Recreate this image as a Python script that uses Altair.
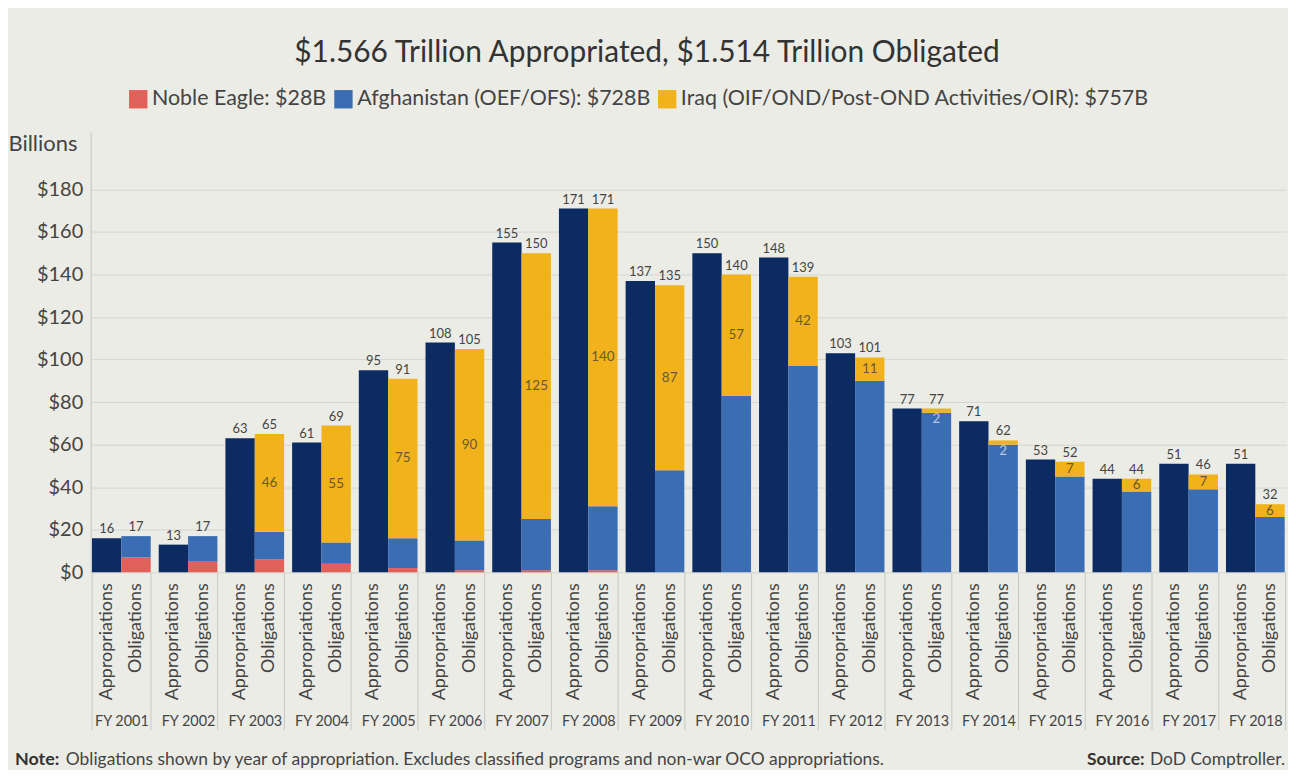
import altair as alt
import pandas as pd

years = [f"FY {y}" for y in range(2001, 2019)]
appropriations = [16, 13, 63, 61, 95, 108, 155, 171, 137, 150, 148, 103, 77, 71, 53, 44, 51, 51]
noble_eagle = [7, 5, 6, 4, 2, 1, 1, 1, 0, 0, 0, 0, 0, 0, 0, 0, 0, 0]
afghanistan = [10, 12, 13, 10, 14, 14, 24, 30, 48, 83, 97, 90, 75, 60, 45, 38, 39, 26]
iraq = [0, 0, 46, 55, 75, 90, 125, 140, 87, 57, 42, 11, 2, 2, 7, 6, 7, 6]

types = ["Appropriations", "Obligations"]
series_names = [
    "Noble Eagle: $28B",
    "Afghanistan (OEF/OFS): $728B",
    "Iraq (OIF/OND/Post-OND Activities/OIR): $757B",
    "Appropriations",
]
colors = ["#e2605a", "#3b6db4", "#f1b21c", "#0b2b62"]

seg_rows, tot_rows, iraq_rows, lab_rows = [], [], [], []
for i, yr in enumerate(years):
    seg_rows.append(dict(year=yr, type="Appropriations", series=series_names[3], lo=0, hi=appropriations[i]))
    base = 0
    for name, vals in zip(series_names[:3], [noble_eagle, afghanistan, iraq]):
        v = vals[i]
        if v > 0:
            seg_rows.append(dict(year=yr, type="Obligations", series=name, lo=base, hi=base + v))
        base += v
    tot_rows.append(dict(year=yr, type="Appropriations", total=appropriations[i]))
    tot_rows.append(dict(year=yr, type="Obligations", total=base))
    if iraq[i] > 0:
        iraq_rows.append(dict(year=yr, type="Obligations", value=iraq[i], lo=base - iraq[i], hi=base))
    for t in types:
        lab_rows.append(dict(year=yr, type=t))

seg = pd.DataFrame(seg_rows)
tot = pd.DataFrame(tot_rows)
iq = pd.DataFrame(iraq_rows)
labs = pd.DataFrame(lab_rows)

W, H = 1200, 442
FONT = "Lato"

x_enc = alt.X(
    "year:N", sort=years, title=None,
    scale=alt.Scale(paddingInner=0.12, paddingOuter=0.02),
    axis=alt.Axis(
        tickBand="extent", ticks=True, tickSize=158, tickColor="#c9c9c4", tickWidth=1,
        domain=False, labelAngle=0, labelFontSize=14.5, labelColor="#444",
        labelPadding=-8, labelBaseline="middle", grid=False,
    ),
)
xo_enc = alt.XOffset("type:N", sort=types, scale=alt.Scale(paddingInner=0, paddingOuter=0))

y_axis = alt.Axis(
    values=list(range(0, 181, 20)), labelExpr="'$' + datum.value",
    title="Billions", titleAngle=0, titleAlign="left", titleBaseline="middle",
    titleX=-83, titleY=12, titleFontSize=22, titleFontWeight="normal", titleColor="#444",
    labelFontSize=20, labelColor="#444", labelPadding=8, ticks=False,
    domain=True, domainColor="#c4c4bf", grid=True, gridColor="#d6d6d0",
)
y_scale = alt.Scale(domain=[0, 207], nice=False)

bars = alt.Chart(seg).mark_bar().encode(
    x=x_enc, xOffset=xo_enc,
    y=alt.Y("lo:Q", scale=y_scale, axis=y_axis),
    y2="hi:Q",
    color=alt.Color(
        "series:N",
        scale=alt.Scale(domain=series_names, range=colors),
        legend=alt.Legend(
            orient="none", legendX=37, legendY=-44, direction="horizontal",
            values=series_names[:3], title=None, symbolType="square", symbolSize=340,
            symbolStrokeWidth=0, labelFontSize=21.5, labelColor="#444", columnPadding=6,
            labelOffset=3, labelLimit=0,
        ),
    ),
)

totals = alt.Chart(tot).mark_text(baseline="bottom", dy=-2, fontSize=13, color="#444").encode(
    x=x_enc, xOffset=xo_enc,
    y=alt.Y("total:Q", scale=y_scale, axis=y_axis),
    text="total:Q",
)

big_iraq = alt.Chart(iq).transform_filter("datum.value > 2").transform_calculate(
    mid="(datum.lo + datum.hi) / 2"
).mark_text(baseline="middle", fontSize=13.5, color="#6a5a2f").encode(
    x=x_enc, xOffset=xo_enc,
    y=alt.Y("mid:Q", scale=y_scale, axis=y_axis),
    text="value:Q",
)

small_iraq = alt.Chart(iq).transform_filter("datum.value <= 2").mark_text(
    baseline="top", dy=4, fontSize=13.5, color="#b9c6da"
).encode(
    x=x_enc, xOffset=xo_enc,
    y=alt.Y("hi:Q", scale=y_scale, axis=y_axis),
    text="value:Q",
)

type_labels = alt.Chart(labs).mark_text(
    angle=270, align="right", baseline="middle", fontSize=18, color="#444"
).encode(
    x=x_enc, xOffset=xo_enc,
    y=alt.value(H + 11),
    text="type:N",
)

FY = H + 188
note_b = alt.Chart(pd.DataFrame({"t": ["Note:"]})).mark_text(
    align="left", baseline="middle", fontSize=18, fontWeight="bold", color="#333"
).encode(text="t:N", x=alt.value(-76), y=alt.value(FY))
note_r = alt.Chart(pd.DataFrame({"t": ["Obligations shown by year of appropriation. Excludes classified programs and non-war OCO appropriations."]})).mark_text(
    align="left", baseline="middle", fontSize=17.5, color="#444"
).encode(text="t:N", x=alt.value(-25), y=alt.value(FY))
src_b = alt.Chart(pd.DataFrame({"t": ["Source:"]})).mark_text(
    align="right", baseline="middle", fontSize=17.5, fontWeight="bold", color="#333"
).encode(text="t:N", x=alt.value(1058), y=alt.value(FY))
src_r = alt.Chart(pd.DataFrame({"t": ["DoD Comptroller."]})).mark_text(
    align="right", baseline="middle", fontSize=17.5, color="#444"
).encode(text="t:N", x=alt.value(W - 1), y=alt.value(FY))

chart = alt.layer(
    bars, totals, big_iraq, small_iraq, type_labels, note_b, note_r, src_b, src_r
).properties(
    width=W, height=H,
    title=alt.TitleParams(
        "$1.566 Trillion Appropriated, $1.514 Trillion Obligated",
        fontSize=30, fontWeight="normal", color="#333", font=FONT, offset=20,
        anchor="middle", frame="bounds",
    ),
    padding={"left": 0, "top": 29, "right": 2, "bottom": 0},
).configure(
    background="#ecece6", font=FONT
).configure_view(stroke=None)

chart.save("out.html", embed_options={"renderer": "svg", "actions": False})
